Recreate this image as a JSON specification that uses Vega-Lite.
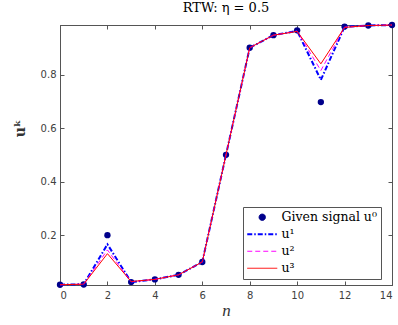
{
  "$schema": "https://vega.github.io/schema/vega-lite/v6.json",
  "width": 332,
  "height": 260,
  "autosize": {"type": "none"},
  "padding": {"left": 60, "top": 25, "right": 6, "bottom": 40},
  "title": {"text": "RTW: η = 0.5", "font": "DejaVu Serif", "fontSize": 13, "fontWeight": "normal", "color": "#000000", "offset": 6},
  "config": {
    "view": {"stroke": "#555555", "strokeWidth": 1},
    "axis": {"grid": false, "domainColor": "#555555", "tickColor": "#555555", "labelFont": "DejaVu Sans", "labelFontSize": 10, "labelColor": "#404040"}
  },
  "data": {"values": [
    {"n": 0, "value": 0.015, "series": "Given signal u⁰"},
    {"n": 1, "value": 0.016, "series": "Given signal u⁰"},
    {"n": 2, "value": 0.2, "series": "Given signal u⁰"},
    {"n": 3, "value": 0.025, "series": "Given signal u⁰"},
    {"n": 4, "value": 0.035, "series": "Given signal u⁰"},
    {"n": 5, "value": 0.052, "series": "Given signal u⁰"},
    {"n": 6, "value": 0.1, "series": "Given signal u⁰"},
    {"n": 7, "value": 0.5, "series": "Given signal u⁰"},
    {"n": 8, "value": 0.9, "series": "Given signal u⁰"},
    {"n": 9, "value": 0.947, "series": "Given signal u⁰"},
    {"n": 10, "value": 0.965, "series": "Given signal u⁰"},
    {"n": 11, "value": 0.697, "series": "Given signal u⁰"},
    {"n": 12, "value": 0.979, "series": "Given signal u⁰"},
    {"n": 13, "value": 0.983, "series": "Given signal u⁰"},
    {"n": 14, "value": 0.985, "series": "Given signal u⁰"},
    {"n": 0, "value": 0.015, "series": "u¹"},
    {"n": 1, "value": 0.017, "series": "u¹"},
    {"n": 2, "value": 0.166, "series": "u¹"},
    {"n": 3, "value": 0.025, "series": "u¹"},
    {"n": 4, "value": 0.035, "series": "u¹"},
    {"n": 5, "value": 0.052, "series": "u¹"},
    {"n": 6, "value": 0.1, "series": "u¹"},
    {"n": 7, "value": 0.5, "series": "u¹"},
    {"n": 8, "value": 0.9, "series": "u¹"},
    {"n": 9, "value": 0.947, "series": "u¹"},
    {"n": 10, "value": 0.963, "series": "u¹"},
    {"n": 11, "value": 0.78, "series": "u¹"},
    {"n": 12, "value": 0.978, "series": "u¹"},
    {"n": 13, "value": 0.983, "series": "u¹"},
    {"n": 14, "value": 0.985, "series": "u¹"},
    {"n": 0, "value": 0.015, "series": "u²"},
    {"n": 1, "value": 0.017, "series": "u²"},
    {"n": 2, "value": 0.145, "series": "u²"},
    {"n": 3, "value": 0.026, "series": "u²"},
    {"n": 4, "value": 0.035, "series": "u²"},
    {"n": 5, "value": 0.052, "series": "u²"},
    {"n": 6, "value": 0.1, "series": "u²"},
    {"n": 7, "value": 0.5, "series": "u²"},
    {"n": 8, "value": 0.9, "series": "u²"},
    {"n": 9, "value": 0.947, "series": "u²"},
    {"n": 10, "value": 0.962, "series": "u²"},
    {"n": 11, "value": 0.815, "series": "u²"},
    {"n": 12, "value": 0.977, "series": "u²"},
    {"n": 13, "value": 0.983, "series": "u²"},
    {"n": 14, "value": 0.985, "series": "u²"},
    {"n": 0, "value": 0.015, "series": "u³"},
    {"n": 1, "value": 0.017, "series": "u³"},
    {"n": 2, "value": 0.131, "series": "u³"},
    {"n": 3, "value": 0.027, "series": "u³"},
    {"n": 4, "value": 0.035, "series": "u³"},
    {"n": 5, "value": 0.052, "series": "u³"},
    {"n": 6, "value": 0.1, "series": "u³"},
    {"n": 7, "value": 0.5, "series": "u³"},
    {"n": 8, "value": 0.9, "series": "u³"},
    {"n": 9, "value": 0.947, "series": "u³"},
    {"n": 10, "value": 0.961, "series": "u³"},
    {"n": 11, "value": 0.84, "series": "u³"},
    {"n": 12, "value": 0.976, "series": "u³"},
    {"n": 13, "value": 0.983, "series": "u³"},
    {"n": 14, "value": 0.985, "series": "u³"}
  ]},
  "resolve": {"axis": {"x": "independent", "y": "independent"}},
  "layer": [
    {
      "transform": [{"filter": "datum.series === 'Given signal u⁰'"}],
      "mark": {"type": "point", "filled": true, "shape": "circle", "size": 40, "opacity": 1},
      "encoding": {
        "x": {"field": "n", "type": "quantitative", "scale": {"domain": [0, 14], "nice": false, "zero": false},
          "axis": {"orient": "bottom", "values": [0, 2, 4, 6, 8, 10, 12, 14], "tickSize": -4, "labelPadding": 9, "title": "n", "titleFont": "Liberation Serif", "titleFontStyle": "italic", "titleFontWeight": "normal", "titleFontSize": 17, "titleColor": "#333333", "titleY": 30, "titleBaseline": "alphabetic"}},
        "y": {"field": "value", "type": "quantitative", "scale": {"domain": [0.014, 0.985], "nice": false, "zero": false},
          "axis": {"orient": "left", "values": [0.2, 0.4, 0.6, 0.8], "format": ".1f", "tickSize": -4, "labelPadding": 8, "title": "uᵏ", "titleFont": "DejaVu Serif", "titleFontWeight": "bold", "titleFontSize": 14, "titleColor": "#333333", "titleX": -33, "titleY": 103}},
        "color": {"field": "series", "type": "nominal",
          "scale": {"domain": ["Given signal u⁰", "u¹", "u²", "u³"], "range": ["#00008b", "#0000ff", "#ff00ff", "#ff0000"]},
          "legend": {"title": null, "orient": "none", "legendX": 183, "legendY": 182, "padding": 4, "strokeColor": "#555555", "fillColor": "#ffffff", "cornerRadius": 0,
            "labelFont": "DejaVu Serif", "labelFontSize": 12.5, "labelColor": "#000000", "rowPadding": 4, "symbolOffset": 9, "labelOffset": 13,
            "encoding": {"symbols": {
              "shape": {"value": {"expr": "datum.value === 'Given signal u⁰' ? 'circle' : 'M-3,0H3'"}},
              "size": {"value": {"expr": "datum.value === 'Given signal u⁰' ? 40 : 100"}},
              "fill": {"value": {"expr": "datum.value === 'Given signal u⁰' ? '#00008b' : 'transparent'"}},
              "strokeWidth": {"value": {"expr": "datum.value === 'u¹' ? 2 : 1"}},
              "strokeDash": {"value": {"expr": "datum.value === 'u¹' ? [5, 2, 1.5, 2] : datum.value === 'u²' ? [5, 3] : [1, 0]"}},
              "opacity": {"value": 1}
            }}}}
      }
    },
    {
      "transform": [{"filter": "datum.series === 'u¹'"}],
      "mark": {"type": "line", "strokeWidth": 2, "strokeDash": [5, 2, 1.5, 2]},
      "encoding": {
        "x": {"field": "n", "type": "quantitative", "axis": {"orient": "top", "values": [0, 2, 4, 6, 8, 10, 12, 14], "tickSize": -4, "labels": false, "title": null}},
        "y": {"field": "value", "type": "quantitative", "axis": {"orient": "right", "values": [0.2, 0.4, 0.6, 0.8], "tickSize": -4, "labels": false, "title": null}},
        "color": {"field": "series", "type": "nominal"}
      }
    },
    {
      "transform": [{"filter": "datum.series === 'u²'"}],
      "mark": {"type": "line", "strokeWidth": 1, "strokeDash": [5, 3]},
      "encoding": {
        "x": {"field": "n", "type": "quantitative", "axis": null},
        "y": {"field": "value", "type": "quantitative", "axis": null},
        "color": {"field": "series", "type": "nominal"}
      }
    },
    {
      "transform": [{"filter": "datum.series === 'u³'"}],
      "mark": {"type": "line", "strokeWidth": 1},
      "encoding": {
        "x": {"field": "n", "type": "quantitative", "axis": null},
        "y": {"field": "value", "type": "quantitative", "axis": null},
        "color": {"field": "series", "type": "nominal"}
      }
    }
  ]
}
